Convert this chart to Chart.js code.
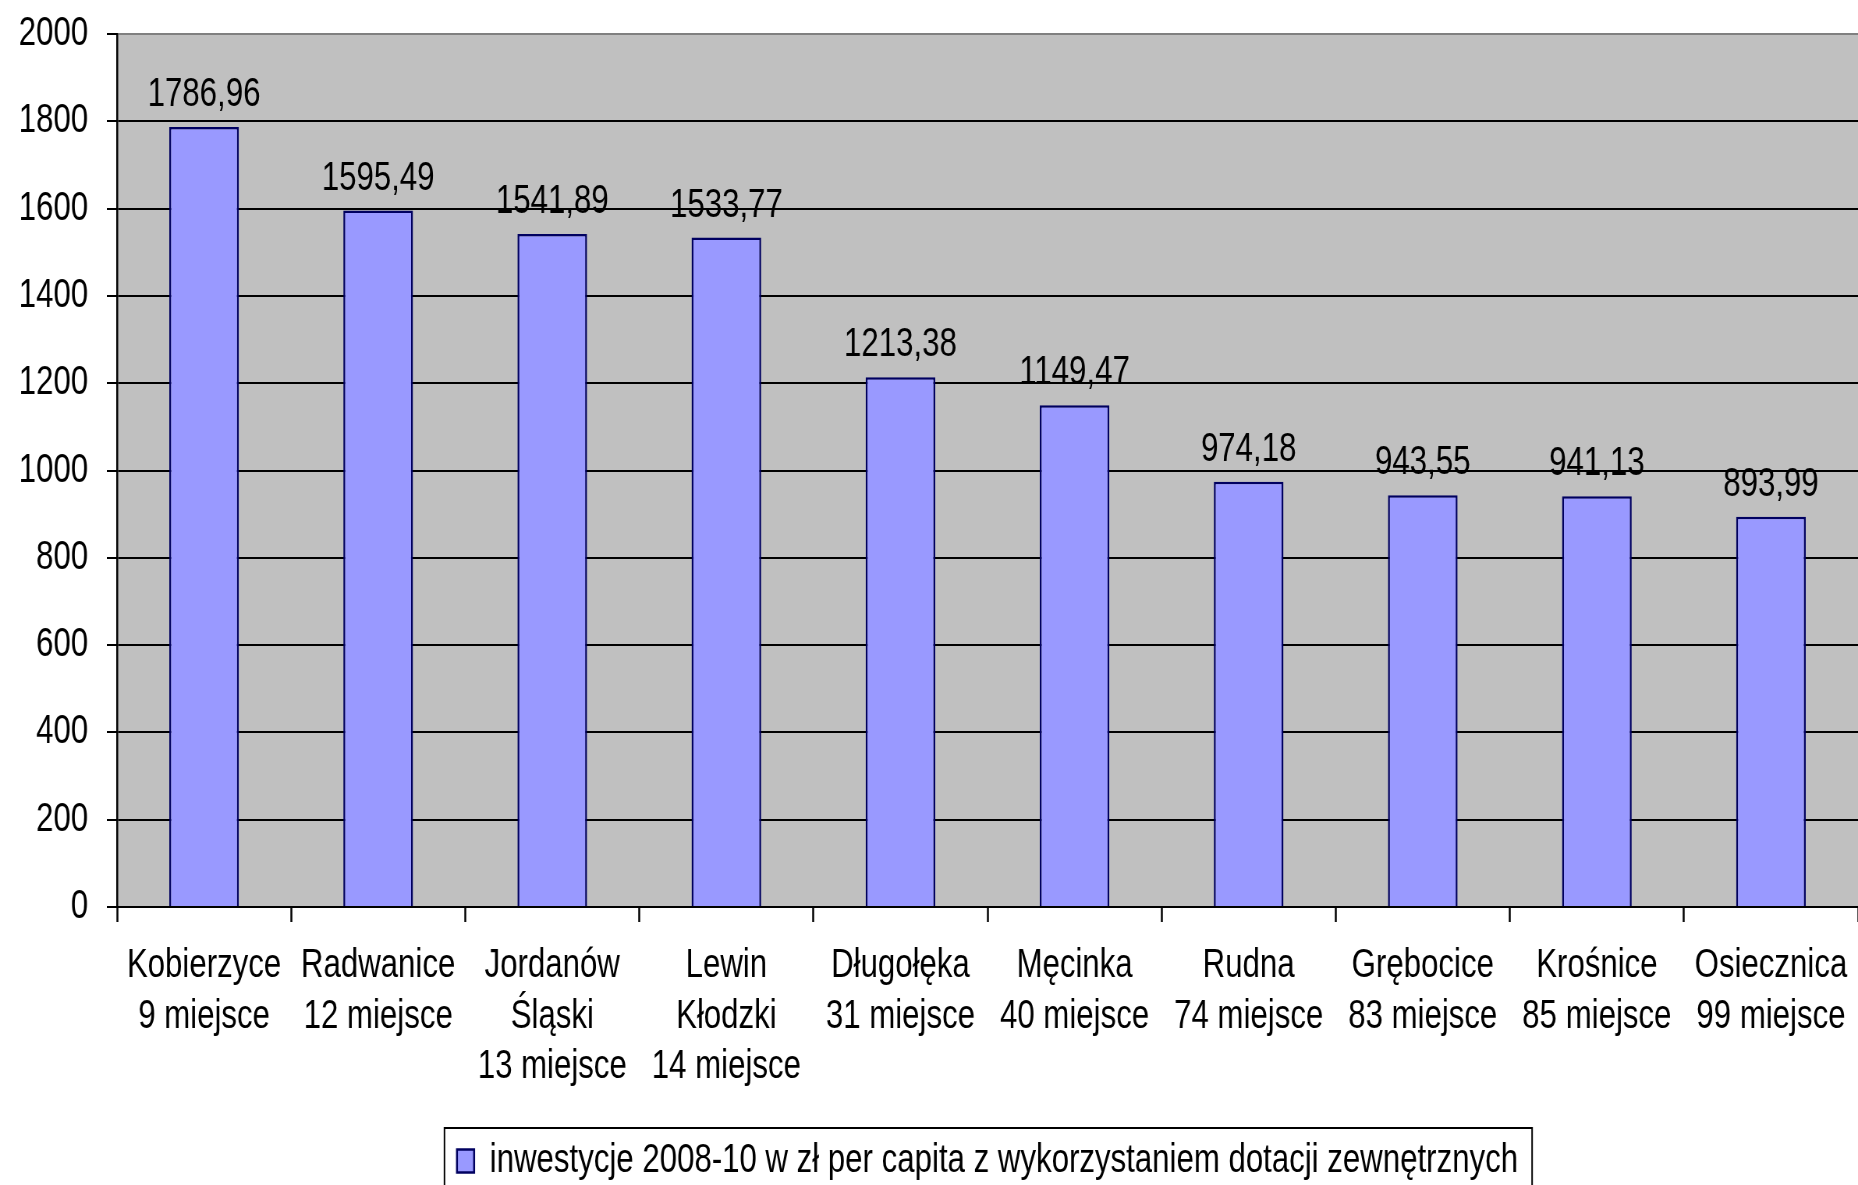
<!DOCTYPE html>
<html>
<head>
<meta charset="utf-8">
<script src="https://cdn.jsdelivr.net/npm/chart.js@4.4.1/dist/chart.umd.min.js"></script>
<style>
  html, body { margin: 0; padding: 0; background: #ffffff; width: 1858px; height: 1185px; overflow: hidden; }
  #wrap { width: 2382px; height: 1185px; transform: scaleX(0.780017); transform-origin: 0 0; }
</style>
</head>
<body>
<div id="wrap"><canvas id="c" width="2382" height="1185"></canvas></div>
<script>
const categories = [
  ["Kobierzyce", "9 miejsce"],
  ["Radwanice", "12 miejsce"],
  ["Jordanów", "Śląski", "13 miejsce"],
  ["Lewin", "Kłodzki", "14 miejsce"],
  ["Długołęka", "31 miejsce"],
  ["Męcinka", "40 miejsce"],
  ["Rudna", "74 miejsce"],
  ["Grębocice", "83 miejsce"],
  ["Krośnice", "85 miejsce"],
  ["Osiecznica", "99 miejsce"]
];
const values = [1786.96, 1595.49, 1541.89, 1533.77, 1213.38, 1149.47, 974.18, 943.55, 941.13, 893.99];
const seriesName = "inwestycje 2008-10 w zł per capita z wykorzystaniem dotacji zewnętrznych";
const yMin = 0, yMax = 2000, yStep = 200;

// text is drawn in an Arial-like font and the whole canvas is condensed horizontally (narrow look)
const FONT = "'Liberation Sans', Arial, sans-serif";
const FONT_SIZE = 40;

const plotBg = {
  id: 'plotBg',
  beforeDraw(chart) {
    const a = chart.chartArea, ctx = chart.ctx;
    ctx.save();
    ctx.fillStyle = '#c0c0c0';
    ctx.fillRect(a.left, a.top, a.right - a.left, a.bottom - a.top);
    ctx.restore();
  }
};

const valueLabels = {
  id: 'valueLabels',
  afterDatasetsDraw(chart) {
    const ctx = chart.ctx;
    const meta = chart.getDatasetMeta(0);
    ctx.save();
    ctx.font = FONT_SIZE + 'px ' + FONT;
    ctx.fillStyle = '#000000';
    ctx.textAlign = 'center';
    ctx.textBaseline = 'alphabetic';
    meta.data.forEach((bar, i) => {
      const txt = values[i].toFixed(2).replace('.', ',');
      ctx.fillText(txt, bar.x, bar.y - 21);
    });
    ctx.restore();
  }
};

const legendBox = {
  id: 'legendBox',
  afterDraw(chart) {
    const lg = chart.legend;
    if (!lg || !lg.legendHitBoxes || !lg.legendHitBoxes.length) return;
    const hb = lg.legendHitBoxes[0];
    const ctx = chart.ctx;
    ctx.save();
    ctx.strokeStyle = '#000000';
    ctx.lineWidth = 2;
    const left = hb.left - 16, right = hb.left + hb.width + 18;
    const top = hb.top - 13;
    ctx.strokeRect(left, top, right - left, chart.height + 20 - top);
    ctx.restore();
  }
};

new Chart(document.getElementById('c'), {
  type: 'bar',
  data: {
    labels: categories,
    datasets: [{
      label: seriesName,
      data: values,
      backgroundColor: '#9999ff',
      borderColor: '#000060',
      borderWidth: 2.5,
      categoryPercentage: 0.8,
      barPercentage: 0.5
    }]
  },
  options: {
    responsive: false,
    animation: false,
    devicePixelRatio: 1,
    layout: { padding: { top: 34, right: 0, left: 0, bottom: -6 } },
    plugins: {
      tooltip: { enabled: false },
      legend: {
        display: true,
        position: 'bottom',
        fullSize: false,
        labels: {
          color: '#000000',
          font: { family: FONT, size: FONT_SIZE },
          boxWidth: 22,
          boxHeight: 23,
          padding: 10
        }
      }
    },
    scales: {
      x: {
        offset: true,
        grid: {
          display: true,
          drawOnChartArea: false,
          drawTicks: true,
          tickLength: 15,
          tickColor: '#000000',
          tickWidth: 2.5,
          offset: true
        },
        border: { display: true, color: '#000000', width: 2 },
        ticks: {
          color: '#000000',
          font: { family: FONT, size: FONT_SIZE, lineHeight: 1.26 },
          padding: 19,
          autoSkip: false,
          maxRotation: 0,
          minRotation: 0
        },
        afterFit(scale) { scale.height = 224; scale.paddingLeft = 0; scale.paddingRight = 0; }
      },
      y: {
        min: yMin,
        max: yMax,
        grid: {
          color: (c) => (c.tick && c.tick.value === yMax) ? '#808080' : '#000000',
          lineWidth: 2,
          drawTicks: true,
          tickLength: 13,
          tickColor: '#000000',
          tickWidth: 2
        },
        border: { display: true, color: '#000000', width: 2.5 },
        ticks: {
          stepSize: yStep,
          color: '#000000',
          font: { family: FONT, size: FONT_SIZE },
          padding: 24,
          callback: (v) => String(v)
        },
        afterFit(scale) { scale.width = 150; scale.paddingTop = 0; scale.paddingBottom = 0; }
      }
    }
  },
  plugins: [plotBg, valueLabels, legendBox]
});
</script>
</body>
</html>
